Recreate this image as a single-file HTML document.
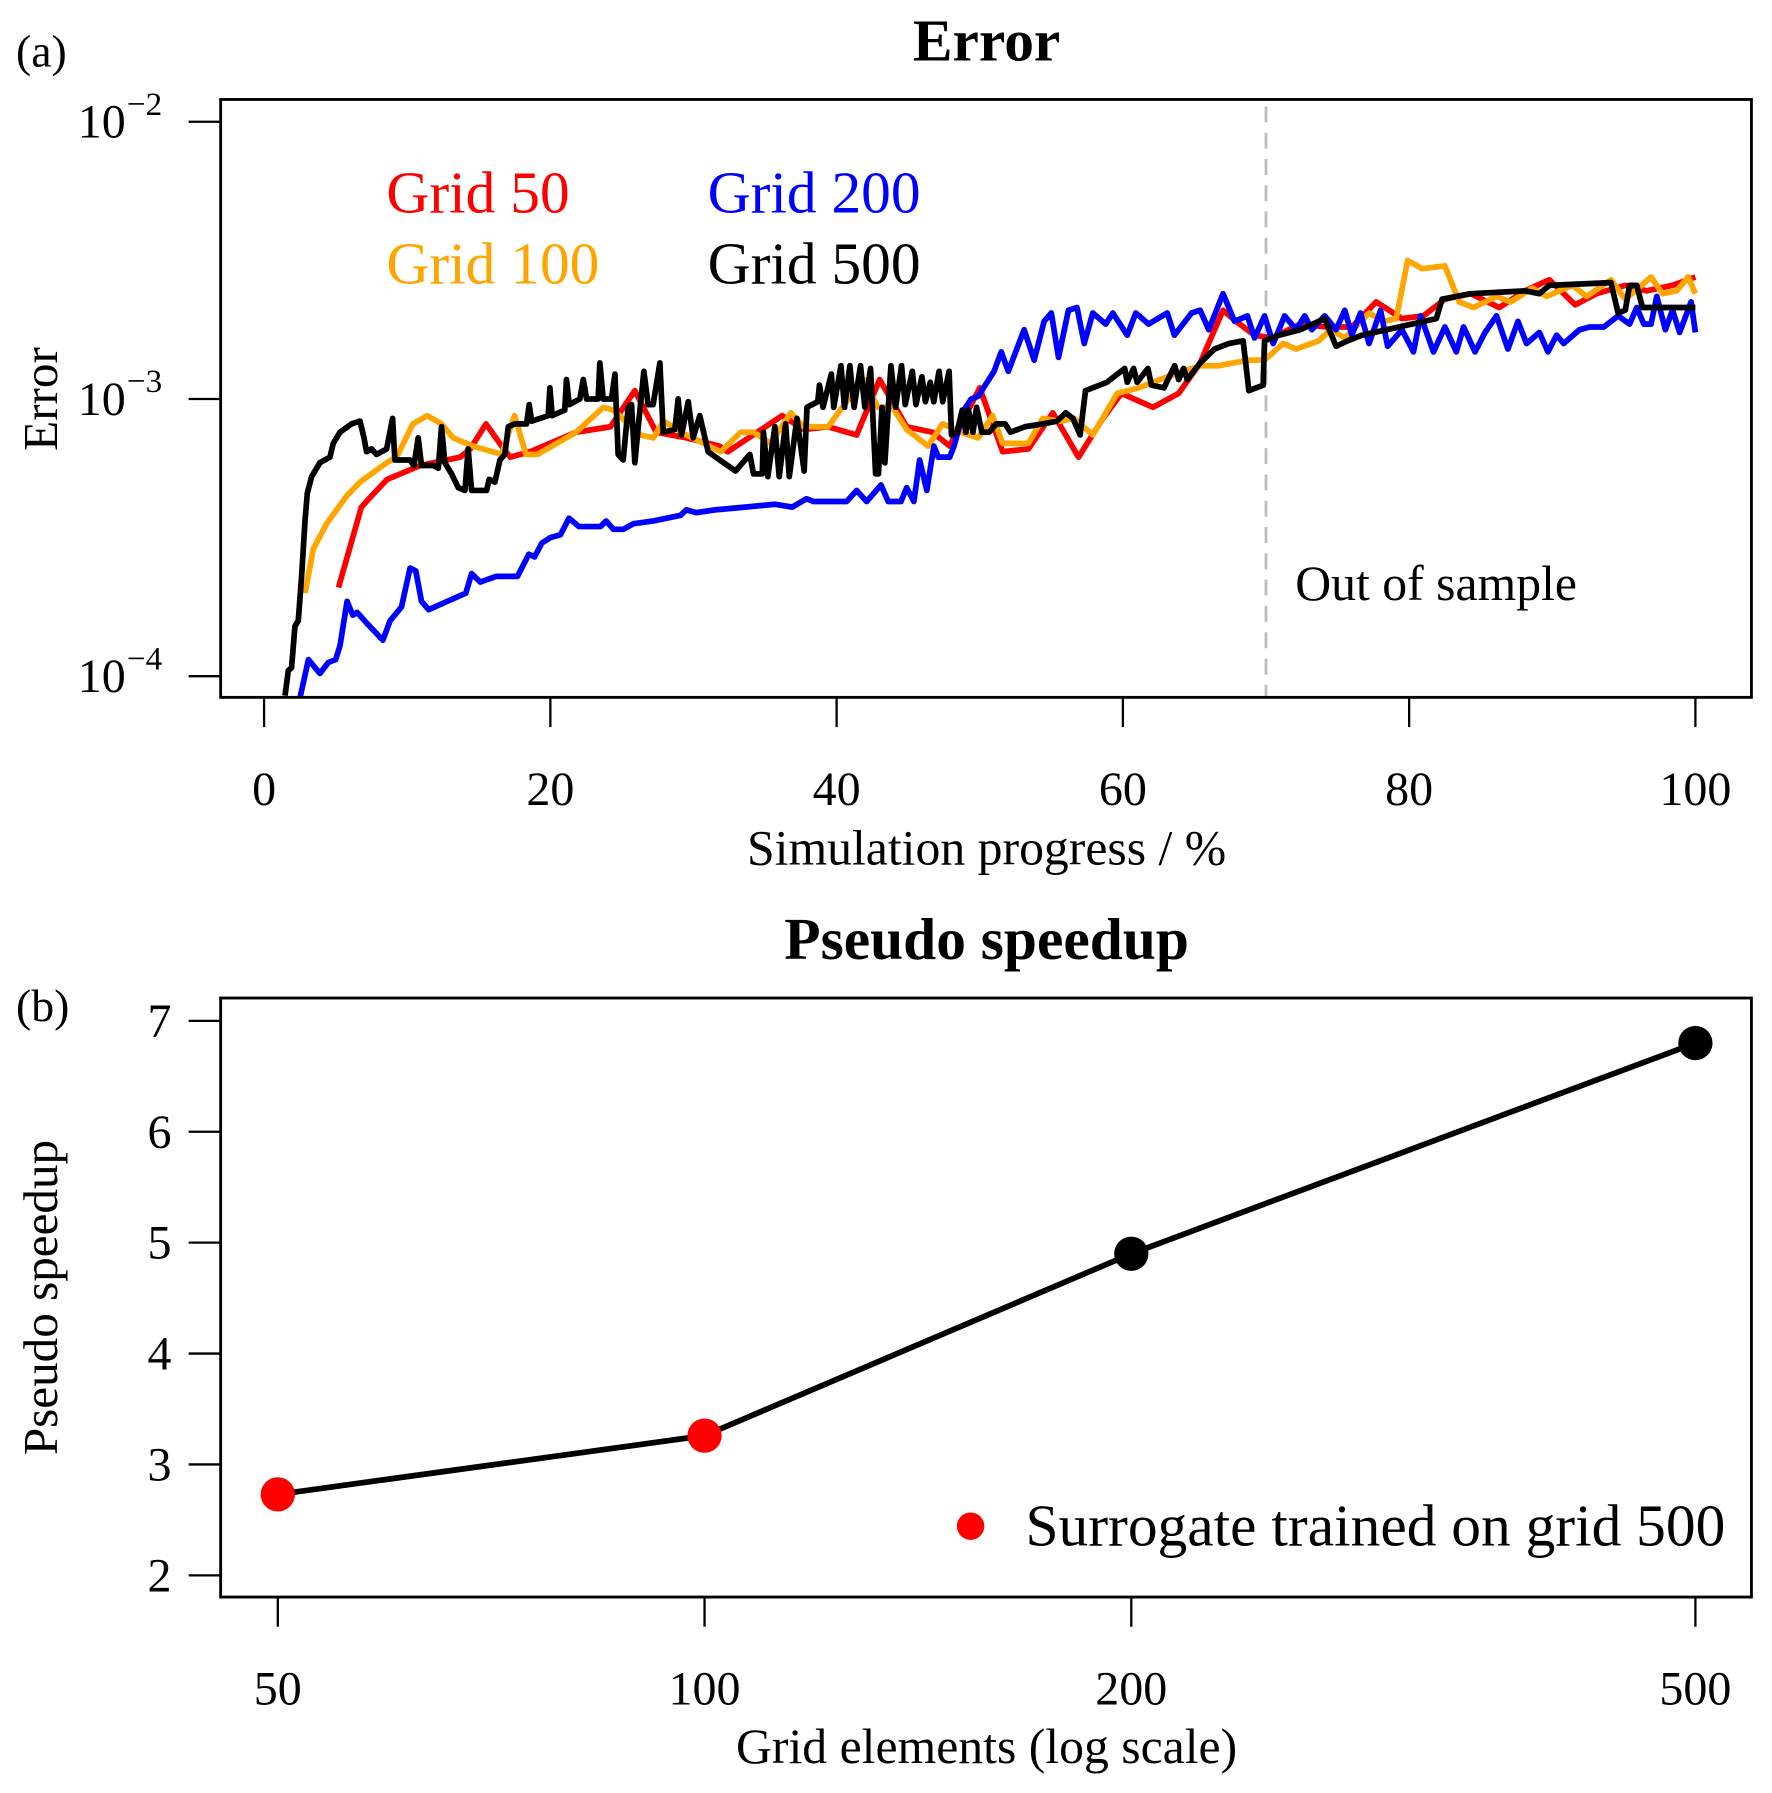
<!DOCTYPE html>
<html><head><meta charset="utf-8"><style>
html,body{margin:0;padding:0;background:#fff}
svg{display:block}
text{font-family:"Liberation Serif","DejaVu Serif",serif}
</style></head><body>
<svg id="fig" width="1772" height="1793" viewBox="0 0 1550 1568.4" preserveAspectRatio="none">
<g id="pa"></g>
<g id="pb"></g>
</svg>
<script>
// ---- Panel (a) data: progress (%) and log10(error) ----
const redX=[5.2,6.8,7.5,8.6,10,10.9,13.7,14.4,15.5,16.6,17.2,18.6,21.8,24.2,25.9,27.4,29.5,31.8,32.4,36.2,37.7,39.4,41.4,43,44.9,46.7,47.9,50,51.6,53.4,55.1,56.9,58.6,59.9,62.1,63.9,65.4,67,67.9,69.2,70.4,72.4,74.2,76,77.7,79.5,81,82.5,84.3,86.3,88.1,89.8,91.6,93.1,95.1,96.6,98.4,100];
const redY=[-3.68,-3.39,-3.35,-3.29,-3.26,-3.24,-3.21,-3.18,-3.09,-3.17,-3.21,-3.19,-3.12,-3.10,-2.97,-3.12,-3.14,-3.17,-3.19,-3.06,-3.11,-3.10,-3.13,-2.93,-3.10,-3.12,-3.17,-2.96,-3.19,-3.18,-3.05,-3.21,-3.07,-2.98,-3.03,-2.98,-2.87,-2.68,-2.72,-2.77,-2.78,-2.73,-2.74,-2.74,-2.65,-2.71,-2.70,-2.64,-2.62,-2.67,-2.61,-2.57,-2.66,-2.62,-2.59,-2.61,-2.59,-2.56];
const orX=[2.86,3.44,4.37,5.77,6.7,8.56,9.26,10.4,11.4,12.4,13.2,14.6,16.6,17.5,18.3,19.1,21.8,23.7,24.4,26.3,27.2,27.9,29.5,31.9,33.3,34.2,35.4,36.8,37.7,39.4,40.4,41.9,42.9,43.9,44.9,46.4,47.4,48.7,49.9,50.9,51.6,53.4,54.4,55.6,56.6,57.9,59.6,61.1,63.1,65.4,66.7,67.7,68.9,69.9,71.2,72.1,73.7,74.5,75.5,77.2,78.2,79.1,79.9,80.9,82.5,83.5,84.5,86.1,87.1,88.6,89.6,91.4,92.4,94.1,95.1,96.9,97.7,98.7,99.5,100];
const orY=[-3.70,-3.54,-3.45,-3.35,-3.30,-3.23,-3.21,-3.09,-3.06,-3.09,-3.14,-3.17,-3.20,-3.06,-3.20,-3.20,-3.12,-3.03,-3.04,-3.13,-3.14,-3.08,-3.13,-3.19,-3.12,-3.12,-3.16,-3.05,-3.10,-3.10,-3.03,-2.93,-3.03,-3.03,-3.11,-3.17,-3.09,-3.12,-3.14,-3.06,-3.16,-3.16,-3.07,-3.08,-3.07,-3.13,-2.98,-2.96,-2.92,-2.88,-2.88,-2.87,-2.86,-2.86,-2.80,-2.82,-2.79,-2.75,-2.78,-2.69,-2.72,-2.71,-2.50,-2.53,-2.52,-2.65,-2.67,-2.63,-2.65,-2.60,-2.63,-2.59,-2.63,-2.57,-2.64,-2.56,-2.62,-2.61,-2.56,-2.62];
const blX=[2.5,3.1,3.9,4.5,5,5.3,5.8,6.2,6.5,7.2,8.3,8.8,9.6,10.2,10.6,11,11.5,12.8,14.1,14.5,15.1,16.2,17.7,18.5,18.9,19.4,20,20.7,21.3,22,23.5,23.9,24.4,25.1,25.8,27.2,29.1,29.5,30.2,31.5,33.6,35.7,36.9,37.9,38.4,40.7,41.4,42.1,43.1,43.6,44.5,44.9,45.4,45.8,46.3,46.8,47.1,47.9,48.2,48.9,49.4,49.9,51,51.5,52,53.1,53.8,54.5,55,55.5,56.2,56.8,57.3,57.9,58.8,59.3,60.3,60.9,61.8,63.1,63.6,64.8,65.4,66,67,67.8,68.7,69.2,69.9,70.5,71.3,72.1,72.7,73.2,74.1,74.9,75.5,76,76.6,77.2,78,78.5,79.5,80.3,80.8,81.7,82.5,83.3,83.8,84.6,85.3,86.1,86.9,87.6,88.2,89.1,89.7,90.3,90.8,91.9,92.6,93.6,94.6,95.4,95.9,96.4,96.9,97.3,97.9,98.4,98.9,99.7,100];
const blY=[-4.08,-3.94,-3.99,-3.95,-3.94,-3.89,-3.73,-3.78,-3.77,-3.81,-3.87,-3.80,-3.75,-3.61,-3.62,-3.73,-3.76,-3.73,-3.70,-3.63,-3.66,-3.64,-3.64,-3.56,-3.57,-3.52,-3.50,-3.49,-3.43,-3.46,-3.46,-3.44,-3.47,-3.47,-3.45,-3.44,-3.42,-3.40,-3.41,-3.40,-3.39,-3.38,-3.39,-3.36,-3.37,-3.37,-3.33,-3.37,-3.31,-3.37,-3.37,-3.32,-3.37,-3.22,-3.33,-3.17,-3.21,-3.21,-3.17,-3.04,-3.00,-2.99,-2.90,-2.83,-2.90,-2.75,-2.86,-2.72,-2.69,-2.85,-2.68,-2.67,-2.80,-2.69,-2.73,-2.69,-2.77,-2.69,-2.73,-2.69,-2.77,-2.69,-2.68,-2.75,-2.62,-2.72,-2.70,-2.78,-2.70,-2.80,-2.70,-2.75,-2.70,-2.75,-2.70,-2.75,-2.68,-2.77,-2.69,-2.80,-2.68,-2.81,-2.75,-2.83,-2.70,-2.83,-2.74,-2.83,-2.74,-2.83,-2.76,-2.70,-2.82,-2.72,-2.80,-2.76,-2.83,-2.77,-2.80,-2.75,-2.74,-2.74,-2.70,-2.73,-2.67,-2.73,-2.73,-2.63,-2.75,-2.68,-2.76,-2.65,-2.76];
const bkX=[1.46,1.69,1.92,2.16,2.39,2.62,2.86,3.02,3.32,3.9,4.6,4.83,5.3,6.11,6.7,6.98,7.16,7.51,7.86,8.56,8.98,9.14,10.19,10.47,10.77,11,11.82,12.17,12.4,12.63,13.1,13.57,14.03,14.26,14.5,15.54,15.73,16.13,16.48,16.82,17.06,17.52,18.34,18.52,18.69,19.85,19.97,20.13,21.01,21.13,21.32,22.06,22.3,22.53,23.34,23.46,23.69,24.27,24.51,24.74,25.09,25.44,25.67,25.9,26.14,26.53,26.83,27.18,27.65,27.88,28.7,28.93,29.16,29.63,29.98,30.44,31.02,31.84,32.94,33.94,34.19,34.81,34.89,35.19,35.69,35.99,36.44,36.69,37.23,37.73,37.93,38.68,38.8,39.05,39.63,39.8,40.3,40.55,40.93,41.22,41.67,41.97,42.37,42.72,42.92,43.17,43.37,43.79,44.12,44.54,44.79,45.29,45.54,45.96,46.21,46.54,46.79,47.16,47.41,47.86,48.03,48.41,48.78,49.03,49.21,49.53,49.78,50.15,50.65,51.15,51.77,52.15,53.15,54.39,55.39,56.01,56.51,57.01,57.39,57.88,58.88,60.13,60.3,60.75,61.0,61.75,62.0,62.87,63.62,63.9,64.24,64.5,65.4,66.4,67.4,68.4,68.8,69.8,69.9,70.9,72.4,74.1,74.9,75.7,76.7,79.3,81.9,82.3,84.3,88.1,89.1,89.8,94.1,94.6,95.1,95.4,95.9,96.3,100];
const bkY=[-4.07,-3.98,-3.97,-3.82,-3.80,-3.64,-3.44,-3.34,-3.28,-3.23,-3.21,-3.16,-3.12,-3.09,-3.08,-3.14,-3.19,-3.18,-3.20,-3.18,-3.07,-3.22,-3.22,-3.24,-3.14,-3.24,-3.24,-3.25,-3.10,-3.23,-3.27,-3.32,-3.33,-3.18,-3.33,-3.33,-3.29,-3.30,-3.22,-3.20,-3.10,-3.09,-3.09,-3.02,-3.08,-3.06,-2.96,-3.06,-3.04,-2.93,-3.02,-3.00,-2.93,-3.00,-3.00,-2.87,-3.00,-3.00,-2.91,-3.20,-3.22,-3.03,-3.02,-3.23,-3.10,-2.90,-3.02,-3.02,-2.87,-3.12,-3.11,-3.00,-3.13,-3.01,-3.14,-3.06,-3.19,-3.22,-3.26,-3.20,-3.27,-3.27,-3.12,-3.28,-3.10,-3.28,-3.09,-3.28,-3.07,-3.26,-3.03,-3.01,-2.95,-3.03,-2.91,-3.03,-2.88,-3.03,-2.88,-3.03,-2.88,-3.03,-2.89,-3.27,-3.27,-3.03,-3.23,-2.88,-3.03,-2.88,-3.02,-2.90,-3.02,-2.92,-3.01,-2.94,-3.01,-2.90,-3.01,-2.90,-3.13,-3.12,-3.04,-3.12,-3.04,-3.12,-3.03,-3.12,-3.12,-3.09,-3.09,-3.12,-3.10,-3.09,-3.08,-3.05,-3.07,-3.13,-2.97,-2.96,-2.94,-2.89,-2.94,-2.89,-2.94,-2.89,-2.95,-2.96,-2.88,-2.93,-2.89,-2.93,-2.87,-2.82,-2.80,-2.79,-2.97,-2.95,-2.79,-2.77,-2.75,-2.71,-2.81,-2.79,-2.77,-2.74,-2.71,-2.64,-2.62,-2.61,-2.62,-2.59,-2.58,-2.69,-2.68,-2.59,-2.59,-2.67,-2.67];
const yTicksA=[-2,-3,-4];
const xTicksA=[0,20,40,60,80,100];
const legendA=[["Grid 50","#ff0000"],["Grid 100","#ffa500"],["Grid 200","#0000ff"],["Grid 500","#000000"]];
// ---- Panel (b) data ----
const gridN=[50,100,200,500];
const speedup=[2.73,3.26,4.9,6.8];
const surrogate=[true,true,false,false];
const yTicksB=[2,3,4,5,6,7];
const xTicksB=[50,100,200,500];

const NS="http://www.w3.org/2000/svg";
function mk(parent,tag,attrs,text){const e=document.createElementNS(NS,tag);for(const k in attrs)e.setAttribute(k,attrs[k]);if(text!==undefined)e.textContent=text;parent.appendChild(e);return e;}
const TF=42;

// Panel a axes
const A={l:193,r:1532,t:87,b:610};
const xa=p=>231+(1483-231)*p/100;
const ya=l=>349-(l+3)*242.5;
const pa=document.getElementById('pa');
let t=mk(pa,'text',{x:863,y:53,'font-size':52,'font-weight':'bold','text-anchor':'middle'},'Error');

t=mk(pa,'text',{x:14,y:58,'font-size':40},'(a)');

const defs=mk(pa,'clipPath',{id:'clipA'});mk(defs,'rect',{x:A.l,y:A.t,width:A.r-A.l,height:A.b-A.t});
let dl=mk(pa,'line',{x1:xa(70),x2:xa(70),y1:A.t+6,y2:A.b,stroke:'#bebebe','stroke-width':2.5,'stroke-dasharray':'14,9'});

t=mk(pa,'text',{x:1133,y:525,'font-size':43.5},'Out of sample');

const series=[[redX,redY,'#ff0000','grid-50-line'],[orX,orY,'#ffa500','grid-100-line'],[blX,blY,'#0000ff','grid-200-line'],[bkX,bkY,'#000000','grid-500-line']];
for(const [X,Y,c,n] of series){
  const d=X.map((x,i)=>(i?'L':'M')+xa(x).toFixed(1)+','+ya(Y[i]).toFixed(1)).join('');
  const p=mk(pa,'path',{d:d,fill:'none',stroke:c,'stroke-width':5,'stroke-linejoin':'round','clip-path':'url(#clipA)'});
  
  
}
let box=mk(pa,'rect',{x:A.l,y:A.t,width:A.r-A.l,height:A.b-A.t,fill:'none',stroke:'#000','stroke-width':2.5});

for(const v of yTicksA){
  const y=ya(v);
  const tk=mk(pa,'line',{x1:165,x2:A.l,y1:y,y2:y,stroke:'#000','stroke-width':2});
  
  const lb=mk(pa,'text',{x:110,y:y+14,'font-size':TF,'text-anchor':'end'},'10');
  
  const sp=mk(pa,'text',{x:111,y:y-6,'font-size':29},'\u2212'+(-v));
  
}
for(const v of xTicksA){
  const x=xa(v);
  const tk=mk(pa,'line',{x1:x,x2:x,y1:A.b,y2:636,stroke:'#000','stroke-width':2});
  
  const lb=mk(pa,'text',{x:x,y:704,'font-size':TF,'text-anchor':'middle'},String(v));
  
}
t=mk(pa,'text',{x:863,y:756,'font-size':43.5,'text-anchor':'middle'},'Simulation progress / %');

t=mk(pa,'text',{x:0,y:0,'font-size':43,'text-anchor':'middle',transform:'translate(50,349) rotate(-90)'},'Error');

legendA.forEach((e,i)=>{
  const lx=i<2?338:619, ly=i%2===0?186:248;
  const lt=mk(pa,'text',{x:lx,y:ly,'font-size':52,fill:e[1]},e[0]);
  
  
});

// Panel b
const B={l:193,r:1532,t:873,b:1397};
const lx0=Math.log(50),lx1=Math.log(500);
const xb=n=>243+(1483-243)*(Math.log(n)-lx0)/(lx1-lx0);
const yb=v=>1378-(v-2)*97;
const pb=document.getElementById('pb');
t=mk(pb,'text',{x:863,y:839,'font-size':52,'font-weight':'bold','text-anchor':'middle'},'Pseudo speedup');

t=mk(pb,'text',{x:14,y:893,'font-size':40},'(b)');

const dd=gridN.map((n,i)=>(i?'L':'M')+xb(n).toFixed(1)+','+yb(speedup[i]).toFixed(1)).join('');
let ln=mk(pb,'path',{d:dd,fill:'none',stroke:'#000','stroke-width':5});

gridN.forEach((n,i)=>{
  const c=mk(pb,'circle',{cx:xb(n),cy:yb(speedup[i]),r:15,fill:surrogate[i]?'#ff0000':'#000'});
  
  
});
box=mk(pb,'rect',{x:B.l,y:B.t,width:B.r-B.l,height:B.b-B.t,fill:'none',stroke:'#000','stroke-width':2.5});

for(const v of yTicksB){
  const y=yb(v);
  const tk=mk(pb,'line',{x1:165,x2:B.l,y1:y,y2:y,stroke:'#000','stroke-width':2});
  
  const lb=mk(pb,'text',{x:150,y:y+14,'font-size':TF,'text-anchor':'end'},String(v));
  
}
for(const v of xTicksB){
  const x=xb(v);
  const tk=mk(pb,'line',{x1:x,x2:x,y1:B.b,y2:1423,stroke:'#000','stroke-width':2});
  
  const lb=mk(pb,'text',{x:x,y:1491,'font-size':TF,'text-anchor':'middle'},String(v));
  
}
t=mk(pb,'text',{x:863,y:1542,'font-size':43.5,'text-anchor':'middle'},'Grid elements (log scale)');

t=mk(pb,'text',{x:0,y:0,'font-size':43,'text-anchor':'middle',transform:'translate(50,1135) rotate(-90)'},'Pseudo speedup');

let ld=mk(pb,'circle',{cx:849,cy:1335,r:12,fill:'#ff0000'});

t=mk(pb,'text',{x:897,y:1352,'font-size':52},'Surrogate trained on grid 500');

</script>
</body></html>
